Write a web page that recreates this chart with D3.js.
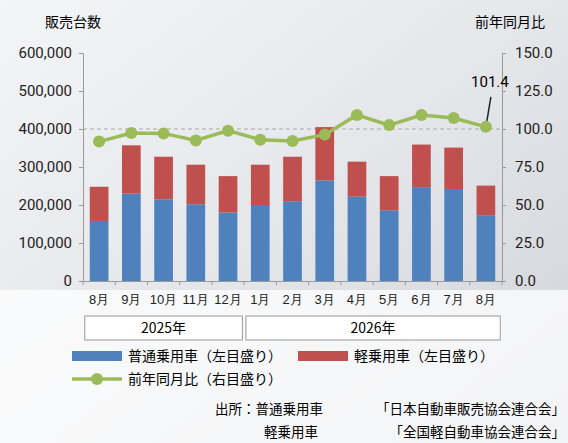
<!DOCTYPE html>
<html><head><meta charset="utf-8">
<script src="https://cdn.jsdelivr.net/npm/d3@7.9.0/dist/d3.min.js"></script>
<style>body{margin:0;background:#fff}svg{font-family:"Noto Sans CJK JP","Noto Sans",sans-serif}</style>
</head><body><svg id="c" width="568" height="443"></svg>
<script>
const months = ['8月','9月','10月','11月','12月','1月','2月','3月','4月','5月','6月','7月','8月'];
const futsu = [158000,230000,215000,202000,180000,200000,210000,265000,222000,186000,247000,242000,173000];
const kei = [90000,127000,112000,104000,96000,106000,117000,140000,92000,90000,112000,109000,78000];
const yoy = [91.7,97.4,97.1,92.5,98.9,93.0,92.1,96.3,109.2,102.6,109.2,107.2,101.4];
const leftTicks = [0,100000,200000,300000,400000,500000,600000];
const rightTicks = [0,25,50,75,100,125,150];

const svg = d3.select('#c');
const defs = svg.append('defs');
const g1 = defs.append('linearGradient').attr('id','bg').attr('x1',0).attr('y1',0).attr('x2',1).attr('y2',1);
g1.append('stop').attr('offset','0').attr('stop-color','#f4f5f7');
g1.append('stop').attr('offset','0.5').attr('stop-color','#e4e6ea');
g1.append('stop').attr('offset','1').attr('stop-color','#cfd2d7');
svg.append('rect').attr('width',568).attr('height',443).attr('fill','url(#bg)');
svg.append('rect').attr('x',0).attr('y',290).attr('width',568).attr('height',153).attr('fill','#fff').attr('opacity',0.75);

const L = 83, R = 502, T = 53, B = 281;
const x = d3.scaleBand().domain(d3.range(months.length)).range([L, R]).paddingInner(0.42).paddingOuter(0.21);
const y = d3.scaleLinear().domain([0,600000]).range([B,T]);
const y2 = d3.scaleLinear().domain([0,150]).range([B,T]);

const fmt = d3.format(',');
const ax = svg.append('g').attr('transform',`translate(${L},0)`)
  .call(d3.axisLeft(y).tickValues(leftTicks).tickFormat(fmt).tickSize(4));
const ax2 = svg.append('g').attr('transform',`translate(${R},0)`)
  .call(d3.axisRight(y2).tickValues(rightTicks).tickFormat(d3.format('.1f')).tickSize(4));
[ax,ax2].forEach(a=>{a.selectAll('path,line').attr('stroke','#999');
  a.selectAll('text').attr('font-size',15).attr('fill','#222').attr('font-family','Roboto,sans-serif');});
ax.selectAll('text').attr('dx',-4);
ax2.selectAll('text').attr('dx',6);

svg.append('line').attr('x1',L).attr('x2',R).attr('y1',y(400000)).attr('y2',y(400000))
  .attr('stroke','#aaa').attr('stroke-dasharray','4,3');

const xa = svg.append('g').attr('transform',`translate(0,${B})`)
  .call(d3.axisBottom(x).tickFormat(i=>months[i]).tickSize(0).tickPadding(14));
xa.select('.domain').attr('stroke','#999');
xa.selectAll('text').attr('font-size',13).attr('fill','#222');
svg.selectAll('.sep').data(d3.range(months.length+1)).join('line')
  .attr('x1',i=>L+(R-L)*i/months.length).attr('x2',i=>L+(R-L)*i/months.length)
  .attr('y1',B).attr('y2',B+4).attr('stroke','#999');

svg.selectAll('.b').data(futsu).join('rect')
  .attr('x',(d,i)=>x(i)).attr('width',x.bandwidth()).attr('y',d=>y(d)).attr('height',d=>B-y(d)).attr('fill','#4f81bd');
svg.selectAll('.k').data(kei).join('rect')
  .attr('x',(d,i)=>x(i)).attr('width',x.bandwidth()).attr('y',(d,i)=>y(d+futsu[i])).attr('height',d=>B-y(d)).attr('fill','#c0504d');

const cx = i => x(i)+x.bandwidth()/2;
svg.append('path').datum(yoy).attr('fill','none').attr('stroke','#9bbb59').attr('stroke-width',3.5)
  .attr('d',d3.line().x((d,i)=>cx(i)).y(d=>y2(d)));
svg.selectAll('.p').data(yoy).join('circle').attr('cx',(d,i)=>cx(i)).attr('cy',d=>y2(d)).attr('r',6).attr('fill','#9bbb59');
const last = yoy.length-1;
svg.append('line').attr('x1',cx(last)+1).attr('y1',y2(yoy[last])-6).attr('x2',cx(last)+5).attr('y2',y2(yoy[last])-30).attr('stroke','#222').attr('stroke-width',1.5);
svg.append('text').attr('x',cx(last)+4).attr('y',y2(yoy[last])-40).attr('text-anchor','middle').attr('font-size',15).attr('font-family','Roboto,sans-serif').text(yoy[last]);

svg.append('text').attr('x',45).attr('y',27).attr('font-size',14).text('販売台数');
svg.append('text').attr('x',475).attr('y',27).attr('font-size',14).text('前年同月比');

const years = [{t:'2025年',a:0,b:4},{t:'2026年',a:5,b:12}];
years.forEach(yr=>{
  const x0 = x(yr.a)-5, x1 = x(yr.b)+x.bandwidth()+5;
  svg.append('rect').attr('x',x0).attr('y',316).attr('width',x1-x0).attr('height',24).attr('fill','#fff').attr('stroke','#999');
  svg.append('text').attr('x',(x0+x1)/2).attr('y',333).attr('text-anchor','middle').attr('font-size',14).text(yr.t);
});

const lg = svg.append('g').attr('font-size',14);
lg.append('rect').attr('x',72).attr('y',351).attr('width',50).attr('height',10).attr('fill','#4f81bd');
lg.append('text').attr('x',128).attr('y',361).text('普通乗用車（左目盛り）');
lg.append('rect').attr('x',298).attr('y',351).attr('width',50).attr('height',10).attr('fill','#c0504d');
lg.append('text').attr('x',354).attr('y',361).text('軽乗用車（左目盛り）');
lg.append('line').attr('x1',72).attr('x2',122).attr('y1',379).attr('y2',379).attr('stroke','#9bbb59').attr('stroke-width',3.5);
lg.append('circle').attr('cx',97).attr('cy',379).attr('r',6).attr('fill','#9bbb59');
lg.append('text').attr('x',128).attr('y',384).text('前年同月比（右目盛り）');

const src = svg.append('g').attr('font-size',13.5);
src.append('text').attr('x',215).attr('y',414).text('出所：普通乗用車');
src.append('text').attr('x',565).attr('y',414).attr('text-anchor','end').text('「日本自動車販売協会連合会」');
src.append('text').attr('x',264).attr('y',437).text('軽乗用車');
src.append('text').attr('x',565).attr('y',437).attr('text-anchor','end').text('「全国軽自動車協会連合会」');
</script></body></html>
